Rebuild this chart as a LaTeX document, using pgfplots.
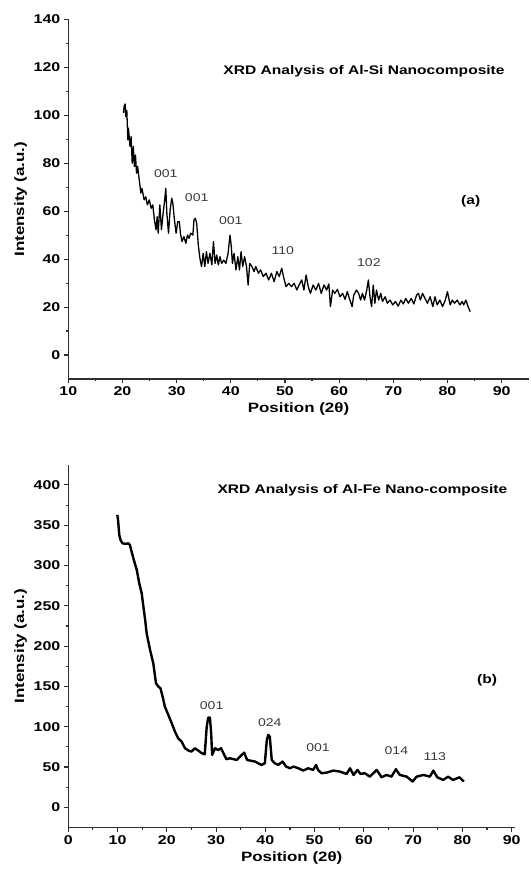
\documentclass[border=0pt]{standalone}
\usepackage{fontspec}
\setmainfont{Liberation Sans}[FakeStretch=1.25]
\usepackage{pgfplots}
\pgfplotsset{compat=1.18}
\definecolor{axgray}{HTML}{2E2E2E}
\definecolor{anngray}{HTML}{3A3A3A}
\pgfplotsset{xrd/.style={
  scale only axis,
  axis lines=left,
  axis line style={-, line width=1.3bp, axgray},
  every tick/.style={line width=1.1bp, axgray},
  tick align=outside,
  major tick length=4.5bp,
  minor tick length=2.5bp,
  minor x tick num=1,
  minor y tick num=1,
  /pgf/number format/assume math mode=true,
  ticklabel style={font=\fontsize{12.8}{13}\selectfont\bfseries, text=black},
  label style={font=\fontsize{13.6}{15}\selectfont\bfseries, text=black},
  clip=false,
}}
\begin{document}
\begin{tikzpicture}
\useasboundingbox (0,0) rectangle (531bp,884bp);
% ---------------- (a) ----------------
\begin{axis}[xrd,
  at={(68.3bp,505bp)}, anchor=south west,
  width=460.4bp, height=359.7bp,
  xmin=10, xmax=95, ymin=-10, ymax=140,
  xtick={10,20,...,90}, ytick={0,20,...,140},
  xlabel={Position (2θ)}, ylabel={Intensity (a.u.)},
]
\addplot[black, line width=1.3bp, line join=round] coordinates {
(20.2,101)(20.3,103.6)(20.5,104.7)(20.6,99.4)(20.8,102)(21.0,89.7)(21.1,94.6)(21.4,87)(21.6,91)(21.8,80)
(22.0,87)(22.2,78.6)(22.4,83.4)(22.6,75.8)(22.8,78.6)(23.1,73)(23.4,67.5)(23.6,69.5)(24.0,64.7)(24.3,66)
(24.6,62.6)(24.95,64.7)(25.3,61.2)(25.6,62.6)(25.9,56.3)(26.2,52.2)(26.4,57.7)(26.6,50.8)(26.9,62.6)(27.2,52.2)
(27.5,59)(27.8,64.7)(28.0,69.5)(28.2,59)(28.5,50.8)(28.8,60.5)(29.1,65.4)(29.3,63.3)(29.6,56.3)(29.9,50.8)
(30.2,55.6)(30.5,55.6)(30.7,50.8)(31.0,47.3)(31.35,49.4)(31.7,46.6)(32.0,50)(32.3,48.7)(32.6,50.8)(33.0,50)
(33.2,56.3)(33.45,57)(33.7,55)(34.0,45.9)(34.3,40.3)(34.6,36.9)(34.9,42.4)(35.2,36.9)(35.5,43.1)(35.8,38.2)
(36.15,42.4)(36.5,37.6)(36.8,47.3)(37.1,38.2)(37.4,41.7)(37.7,37.6)(38.0,41)(38.3,38.2)(38.7,39.6)(39.1,38.2)
(39.5,42.4)(39.85,50)(40.1,45.2)(40.3,38.2)(40.6,42.4)(40.95,35.5)(41.3,41)(41.6,35.5)(41.9,43.1)(42.2,36.9)
(42.55,41)(42.9,36.9)(43.2,29.2)(43.5,38.2)(43.9,36.9)(44.3,34.8)(44.6,36.9)(45.1,34.1)(45.5,35.5)(46.0,32.7)
(46.5,34.1)(47.0,31.3)(47.5,34.1)(48.0,30.6)(48.5,34.8)(48.95,32.7)(49.4,36.2)(49.8,32)(50.2,28.5)(50.7,29.9)
(51.2,28.5)(51.7,29.9)(52.2,27.1)(52.6,29.2)(53.1,31.3)(53.5,27.1)(53.9,33.4)(54.3,28.5)(54.7,25.7)(55.2,29.2)
(55.7,27.1)(56.2,29.9)(56.7,25.7)(57.2,29.2)(57.7,27.1)(58.1,29.6)(58.4,20.2)(58.8,27.1)(59.2,25.7)(59.7,27.4)
(60.15,24.3)(60.65,25.7)(61.1,23.2)(61.5,26.4)(62.0,22.9)(62.4,20.2)(62.7,25)(63.2,27.1)(63.6,25.7)(63.97,22.9)
(64.3,25.7)(64.7,22.9)(65.1,27.1)(65.4,31.3)(65.7,24.3)(66.0,20.2)(66.3,29.2)(66.6,21.6)(66.9,27.1)(67.3,22.9)
(67.7,25.7)(68.0,22.3)(68.5,24.3)(68.9,21.6)(69.4,22.9)(69.9,20.9)(70.4,22.3)(70.9,20.4)(71.4,22.9)(71.85,21.3)
(72.3,23.6)(72.8,21.6)(73.3,23.6)(73.8,21.3)(74.3,25)(74.65,25.7)(75.0,22.9)(75.4,25.7)(75.85,23.6)(76.3,21.6)
(76.8,24.3)(77.3,20.2)(77.7,24.3)(78.1,20.9)(78.6,22.9)(79.1,20.2)(79.6,22.9)(80.0,26.4)(80.5,20.9)(80.9,22.9)
(81.3,21.6)(81.8,22.9)(82.3,20.9)(82.7,22.3)(83.0,20.9)(83.4,22.9)(83.8,20.2)(84.2,18.1)
};
\node[font=\fontsize{12.5}{14}\selectfont\bfseries] at (axis cs:64.6,118.2) {XRD Analysis of Al-Si Nanocomposite};
\node[font=\fontsize{12.5}{14}\selectfont\bfseries] at (axis cs:84.3,64.3) {(a)};
\begin{scope}[every node/.style={font=\fontsize{11.3}{13}\selectfont, text=anngray}]
\node at (axis cs:28.0,75.8) {001};
\node at (axis cs:33.7,65.8) {001};
\node at (axis cs:40.0,56.0) {001};
\node at (axis cs:49.6,43.5) {110};
\node at (axis cs:65.5,38.5) {102};
\end{scope}
\end{axis}
% ---------------- (b) ----------------
\begin{axis}[xrd,
  at={(68.3bp,56.6bp)}, anchor=south west,
  width=446.8bp, height=362.6bp,
  xmin=0, xmax=90.7, ymin=-25, ymax=425,
  xtick={0,10,...,90}, ytick={0,50,...,400},
  xlabel={Position (2θ)}, ylabel={Intensity (a.u.)},
]
\addplot[black, line width=2.4bp, line join=round] coordinates {
(9.95,362.8)(10.1,356.6)(10.35,338)(10.6,331.7)(11.0,327.6)(11.7,326.8)(12.2,327.6)(12.5,325.5)(12.85,317.3)
(13.3,307)(13.9,294.5)(14.4,278)(14.9,265.6)(15.2,251)(15.6,232.5)(15.9,216)(16.6,195.2)(17.25,178.7)
(17.8,153.9)(18.3,149.7)(18.7,147.7)(19.15,137.3)(19.6,124.9)(20.3,114.6)(21.0,104.2)(21.65,93.9)(22.3,85.6)
(23.0,81.5)(23.7,73.2)(24.4,70.3)(25.0,69.1)(25.7,73.2)(26.4,70.3)(27.1,67)(27.7,65.8)(28.1,100)(28.4,111.3)
(28.75,111.3)(29.0,91.8)(29.2,65)(29.8,73.2)(30.4,71)(31.0,73.2)(31.5,67)(32.1,59.6)(32.8,60.8)(34.2,58.7)
(35.2,65)(35.7,67.8)(36.3,58.7)(37.9,56.7)(39.2,52.5)(39.9,54.6)(40.3,83.6)(40.6,89.8)(40.9,87.7)(41.3,58.7)
(41.9,54.6)(42.6,52.5)(43.5,56.7)(44.2,50.5)(45.0,48.4)(45.7,50.5)(46.7,48.4)(47.7,45.5)(48.7,48.4)(49.7,46.3)
(50.3,52.5)(50.7,46.3)(51.4,42.2)(52.4,43)(53.8,45.5)(55.1,44.3)(56.5,41.4)(57.2,48.4)(57.9,40.1)(58.7,46.3)
(59.3,41.4)(60.2,42.2)(61.2,38)(62.6,46.3)(63.6,37.2)(64.6,40.1)(65.6,38)(66.5,47.2)(67.3,40.1)(68.7,38)
(69.9,31.9)(70.7,38)(72.1,40.1)(73.4,38)(74.1,45.5)(74.9,37.2)(76.1,33.9)(77.1,38)(78.1,33.9)(79.4,37.2)(80.3,31.9)
};
\node[font=\fontsize{12.5}{14}\selectfont\bfseries] at (axis cs:59.7,393) {XRD Analysis of Al-Fe Nano-composite};
\node[font=\fontsize{12.5}{14}\selectfont\bfseries] at (axis cs:85.0,158) {(b)};
\begin{scope}[every node/.style={font=\fontsize{11.3}{13}\selectfont, text=anngray}]
\node at (axis cs:29.1,125.7) {001};
\node at (axis cs:40.9,105) {024};
\node at (axis cs:50.7,74) {001};
\node at (axis cs:66.6,70) {014};
\node at (axis cs:74.4,62.9) {113};
\end{scope}
\end{axis}
\end{tikzpicture}
\end{document}
